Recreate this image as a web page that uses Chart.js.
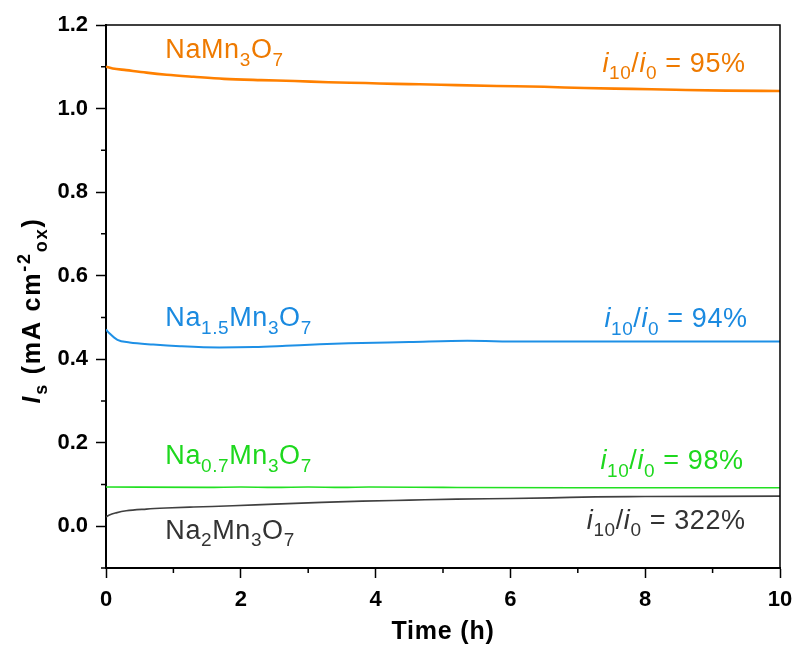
<!DOCTYPE html>
<html>
<head>
<meta charset="utf-8">
<script src="https://cdn.jsdelivr.net/npm/chart.js@4.4.1/dist/chart.umd.min.js"></script>
<style>
  html, body { margin: 0; padding: 0; background: #fff; }
  #wrap { width: 799px; height: 648px; position: relative; }
</style>
</head>
<body>
<div id="wrap"><canvas id="c" width="799" height="648"></canvas></div>
<script>
// Stability test: steady-state current over 10 h for each sodium manganese oxide
const timeNa1 = [0, 0.1, 0.3, 0.6, 0.9, 1.3, 1.75, 2.3, 2.8, 3.3, 3.85, 4.3, 4.65, 5.2, 5.8, 6.5, 7.1, 7.8, 8.45, 9.2, 10];
const currentNa1 = [1.100, 1.096, 1.092, 1.086, 1.081, 1.076, 1.071, 1.068, 1.066, 1.063, 1.061, 1.059, 1.058, 1.056, 1.054, 1.052, 1.049, 1.047, 1.045, 1.043, 1.042];

const timeNa15 = [0, 0.05, 0.17, 0.35, 0.7, 1.1, 1.68, 2.2, 2.67, 3.1, 3.6, 4.5, 5.36, 6.15, 7, 8, 9, 10];
const currentNa15 = [0.471, 0.462, 0.446, 0.440, 0.435, 0.431, 0.428, 0.429, 0.432, 0.435, 0.438, 0.441, 0.444, 0.442, 0.442, 0.442, 0.442, 0.442];

const timeNa07 = [0, 1.5, 2.0, 2.5, 3.0, 3.5, 3.9, 5, 7, 10];
const currentNa07 = [0.094, 0.093, 0.094, 0.093, 0.094, 0.093, 0.094, 0.093, 0.092, 0.092];

const timeNa2 = [0, 0.05, 0.15, 0.3, 0.6, 0.89, 1.3, 1.88, 2.5, 3.2, 3.8, 4.5, 5.2, 6.0, 6.6, 7.26, 8, 9, 10];
const currentNa2 = [0.0224, 0.027, 0.032, 0.037, 0.041, 0.0435, 0.046, 0.049, 0.053, 0.057, 0.060, 0.0625, 0.065, 0.0665, 0.068, 0.0704, 0.071, 0.0715, 0.072];

const xMajorTicks = [0, 2, 4, 6, 8, 10];
const xMinorTicks = [1, 3, 5, 7, 9];
const yMajorTicks = [0, 0.2, 0.4, 0.6, 0.8, 1.0, 1.2];
const yMinorTicks = [-0.1, 0.1, 0.3, 0.5, 0.7, 0.9, 1.1];

// Retention ratios i10/i0 (%), one per series
const retention = [95, 94, 98, 322];
const seriesColors = ['#FF8000', '#1E90E6', '#22E022', '#404040'];
const textColors = ['#EE7A00', '#1A8AE0', '#1ED81E', '#333333'];

const toXY = (ts, vs) => ts.map((t, i) => ({ x: t, y: vs[i] }));

// Label anchors in data units: [x, y baseline]
const nameAnchors = [[0.88, 1.121], [0.88, 0.4795], [0.88, 0.149], [0.88, -0.030]];
const ratioAnchors = [[9.49, 1.088], [9.52, 0.477], [9.46, 0.137], [9.49, -0.006]];

// Rich-text pieces: [text, kind] with kind in n (normal), b (sub), p (sup), i (italic)
const names = [
  [['NaMn', 'n'], ['3', 'b'], ['O', 'n'], ['7', 'b']],
  [['Na', 'n'], ['1.5', 'b'], ['Mn', 'n'], ['3', 'b'], ['O', 'n'], ['7', 'b']],
  [['Na', 'n'], ['0.7', 'b'], ['Mn', 'n'], ['3', 'b'], ['O', 'n'], ['7', 'b']],
  [['Na', 'n'], ['2', 'b'], ['Mn', 'n'], ['3', 'b'], ['O', 'n'], ['7', 'b']]
];
const ratioText = r => [['i', 'i'], ['10', 'b'], ['/', 'n'], ['i', 'i'], ['0', 'b'], [' = ' + r + '%', 'n']];

const FAMILY = '"Liberation Sans", Arial, sans-serif';

function pieceFont(kind, size, bold) {
  const w = bold ? 'bold ' : '';
  if (kind === 'b' || kind === 'p') return w + Math.round(size * 0.72) + 'px ' + FAMILY;
  if (kind === 'i') return 'italic ' + w + size + 'px ' + FAMILY;
  return w + size + 'px ' + FAMILY;
}
function pieceShift(kind, size) {
  if (kind === 'b') return size * 0.28;
  if (kind === 'p') return -size * 0.42;
  return 0;
}
function richWidth(ctx, parts, size, bold) {
  let w = 0;
  for (const [t, k] of parts) { ctx.font = pieceFont(k, size, bold); w += ctx.measureText(t).width; }
  return w;
}
function drawRich(ctx, parts, x, y, size, bold, color, align, spacing) {
  ctx.letterSpacing = (spacing || 0) + 'px';
  const total = richWidth(ctx, parts, size, bold);
  let cx = align === 'right' ? x - total : (align === 'center' ? x - total / 2 : x);
  ctx.fillStyle = color;
  ctx.textBaseline = 'alphabetic';
  ctx.textAlign = 'left';
  for (const [t, k] of parts) {
    ctx.font = pieceFont(k, size, bold);
    ctx.fillText(t, cx, y + pieceShift(k, size));
    cx += ctx.measureText(t).width;
  }
  ctx.letterSpacing = '0px';
}

const decorations = {
  id: 'decorations',
  afterDraw(chart) {
    const { ctx, chartArea: a, scales: { x, y } } = chart;
    ctx.save();
    // frame on top and right
    ctx.strokeStyle = '#000';
    ctx.lineWidth = 1.5;
    ctx.beginPath();
    ctx.moveTo(a.left, a.top); ctx.lineTo(a.right, a.top); ctx.lineTo(a.right, a.bottom);
    ctx.stroke();
    // minor ticks
    ctx.beginPath();
    for (const v of xMinorTicks) {
      const px = x.getPixelForValue(v);
      ctx.moveTo(px, a.bottom); ctx.lineTo(px, a.bottom + 5);
    }
    for (const v of yMinorTicks) {
      const py = y.getPixelForValue(v);
      ctx.moveTo(a.left, py); ctx.lineTo(a.left - 5, py);
    }
    ctx.stroke();
    // series names and retention labels
    for (let i = 0; i < names.length; i++) {
      drawRich(ctx, names[i], x.getPixelForValue(nameAnchors[i][0]), y.getPixelForValue(nameAnchors[i][1]), 27, false, textColors[i], 'left', 0.6);
      drawRich(ctx, ratioText(retention[i]), x.getPixelForValue(ratioAnchors[i][0]), y.getPixelForValue(ratioAnchors[i][1]), 27, false, textColors[i], 'right', 0.6);
    }
    // x axis title
    ctx.fillStyle = '#000';
    ctx.font = 'bold 25px ' + FAMILY;
    ctx.letterSpacing = '0.8px';
    ctx.textAlign = 'center';
    ctx.textBaseline = 'alphabetic';
    ctx.fillText('Time (h)', (a.left + a.right) / 2, 639);
    ctx.letterSpacing = '0px';
    // y axis title, rotated
    ctx.translate(40, (a.top + a.bottom) / 2 + 14);
    ctx.rotate(-Math.PI / 2);
    drawRich(ctx, [['I', 'i'], ['s', 'b'], [' (mA cm', 'n'], ['-2', 'p'], ['ox', 'b'], [')', 'n']], 0, 0, 25, true, '#000', 'center', 1.8);
    ctx.restore();
  }
};

const makeSet = (ts, vs, color, width) => ({
  data: toXY(ts, vs),
  borderColor: color,
  borderWidth: width,
  pointRadius: 0,
  fill: false,
  cubicInterpolationMode: 'monotone'
});

const tickFont = { family: FAMILY, size: 22, weight: 'bold' };

new Chart(document.getElementById('c'), {
  type: 'line',
  data: {
    datasets: [
      makeSet(timeNa1, currentNa1, seriesColors[0], 2.6),
      makeSet(timeNa15, currentNa15, seriesColors[1], 2),
      makeSet(timeNa07, currentNa07, seriesColors[2], 1.6),
      makeSet(timeNa2, currentNa2, seriesColors[3], 1.6)
    ]
  },
  options: {
    responsive: false,
    animation: false,
    layout: { padding: { left: 0, top: 25, right: 19, bottom: 0 } },
    plugins: { legend: { display: false }, tooltip: { enabled: false } },
    scales: {
      x: {
        type: 'linear',
        min: 0, max: 10,
        afterBuildTicks: s => { s.ticks = xMajorTicks.map(v => ({ value: v })); },
        afterFit: s => { s.height = 80; s.paddingLeft = 0; s.paddingRight = 0; },
        grid: { drawOnChartArea: false, drawTicks: true, tickLength: 10, color: '#000', tickWidth: 1.5 },
        border: { display: true, color: '#000', width: 2 },
        ticks: { color: '#000', font: tickFont, padding: 9, maxRotation: 0 }
      },
      y: {
        type: 'linear',
        min: -0.1, max: 1.2,
        afterBuildTicks: s => { s.ticks = yMajorTicks.map(v => ({ value: v })); },
        afterFit: s => { s.width = 106; s.paddingTop = 0; s.paddingBottom = 0; },
        grid: { drawOnChartArea: false, drawTicks: true, tickLength: 10, color: '#000', tickWidth: 1.5 },
        border: { display: true, color: '#000', width: 2 },
        ticks: { color: '#000', font: tickFont, padding: 8, callback: v => v.toFixed(1) }
      }
    }
  },
  plugins: [decorations]
});
</script>
</body>
</html>
